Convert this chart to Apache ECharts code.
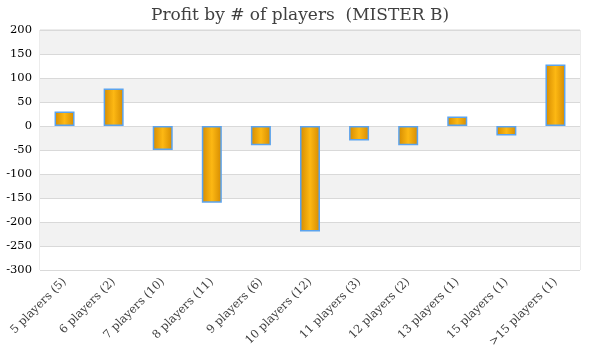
<!DOCTYPE html>
<html><head><meta charset="utf-8">
<script src="https://cdn.jsdelivr.net/npm/echarts@6/dist/echarts.min.js"></script>
<style>html,body{margin:0;padding:0;background:#fff}#c{width:600px;height:360px}</style>
</head><body><div id="c"></div>
<script>
const categories = ['5 players (5)','6 players (2)','7 players (10)','8 players (11)','9 players (6)','10 players (12)','11 players (3)','12 players (2)','13 players (1)','15 players (1)','>15 players (1)'];
const profit = [30, 78, -50, -160, -40, -220, -30, -40, 20, -20, 128];
const yTicks = {min: -300, max: 200, interval: 50};

const font = '"DejaVu Serif", "Liberation Serif", serif';
const chart = echarts.init(document.getElementById('c'));
chart.setOption({
  animation: false,
  title: {text: 'Profit by # of players  (MISTER B)', left: 'center', top: 2,
    textStyle: {fontFamily: font, fontSize: 17, fontWeight: 'normal', color: '#404040'}},
  grid: {left: 40, right: 20, top: 30, bottom: 90, show: true, borderColor: '#d9d9d9', borderWidth: 1},
  xAxis: {type: 'category', data: categories,
    axisLine: {show: false}, axisTick: {show: false},
    axisLabel: {rotate: 45, interval: 0, fontFamily: font, fontSize: 11.5, color: '#404040', margin: 10}},
  yAxis: {type: 'value', min: yTicks.min, max: yTicks.max, interval: yTicks.interval,
    axisLine: {show: false}, axisTick: {show: false},
    axisLabel: {fontFamily: font, fontSize: 11.5, color: '#000', margin: 8},
    splitLine: {lineStyle: {color: '#d9d9d9'}},
    splitArea: {show: true, areaStyle: {color: ['#ffffff', '#f2f2f2']}}},
  series: [{type: 'bar', data: profit, barWidth: 20,
    itemStyle: {
      color: new echarts.graphic.LinearGradient(0, 0, 1, 0, [
        {offset: 0, color: '#d48a00'},
        {offset: 0.5, color: '#fdb813'},
        {offset: 1, color: '#d48a00'}]),
      borderColor: '#5ba3ee', borderWidth: 1.5}}]
});
</script></body></html>
